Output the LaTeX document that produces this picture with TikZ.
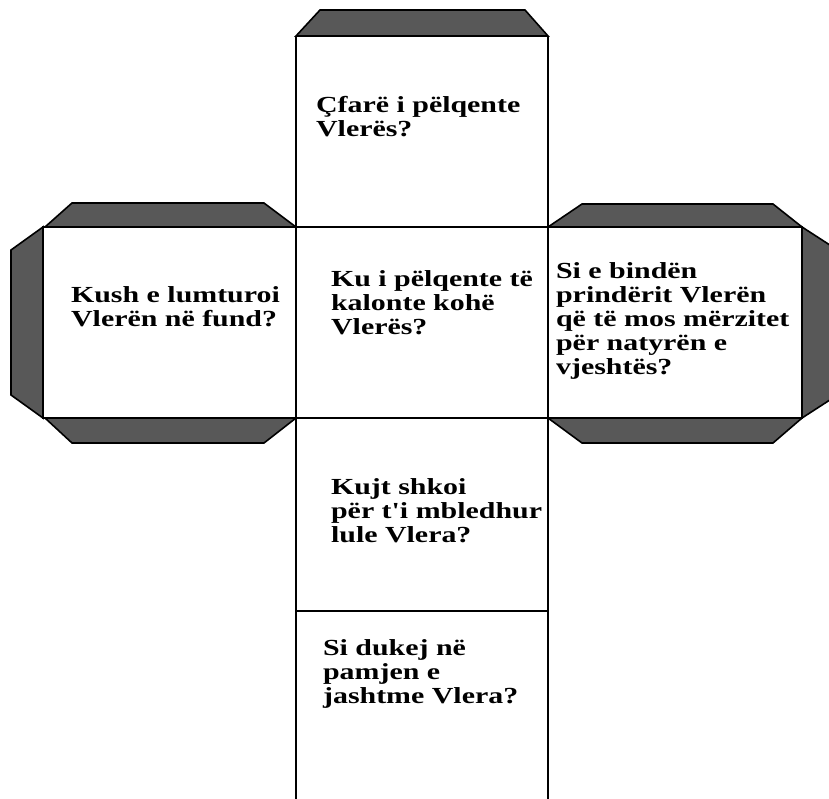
\documentclass[tikz,border=0pt]{standalone}
\usepackage{fontspec}
\newfontfamily\askfont{Liberation Serif}[FakeStretch=1.3]
\definecolor{flapGray}{RGB}{88, 88, 88}

\begin{document}
\begin{tikzpicture}[x=1pt, y=-1pt, line width=2.2pt,
    question/.style={anchor=west, align=left, inner sep=0pt,
      font=\askfont\bfseries\fontsize{23}{24}\selectfont},
    flap/.style={fill=flapGray, draw=black, line width=1.6pt}]
  \clip (0,0) rectangle (829,798);

  % Flaps of the top face
  \filldraw[flap] (296,36) -- (320,10) -- (525,10) -- (548,36) -- cycle;

  % Flaps of the left face
  \filldraw[flap] (45,227) -- (72,203) -- (264,203) -- (296,227) -- cycle;
  \filldraw[flap] (45,418) -- (72,443) -- (264,443) -- (296,418) -- cycle;
  \filldraw[flap] (43,227) -- (11,250) -- (11,395) -- (43,418) -- cycle;

  % Flaps of the right face
  \filldraw[flap] (548,227) -- (582,204) -- (773,204) -- (802,227) -- cycle;
  \filldraw[flap] (548,418) -- (582,443) -- (773,443) -- (802,418) -- cycle;
  \filldraw[flap] (802,227) -- (836,249) -- (836,396) -- (802,418) -- cycle;

  % Faces
  \draw (296,36) -- (548,36);
  \draw (296,36) -- (296,800);
  \draw (548,36) -- (548,800);
  \draw (43,227) rectangle (802,418);
  \draw (296,611) -- (548,611);

  % Questions
  \node[question] (qTop) at (315,117) {Çfarë i pëlqente\\Vlerës?};
  \node[question] (qMid) at (330,303) {Ku i pëlqente të\\kalonte kohë\\Vlerës?};
  \node[question] (qLeft) at (70,307) {Kush e lumturoi\\Vlerën në fund?};
  \node[question] (qRight) at (555,321) {Si e bindën\\prindërit Vlerën\\që të mos mërzitet\\për natyrën e\\vjeshtës?};
  \node[question] (qLow) at (330,511) {Kujt shkoi\\për t'i mbledhur\\lule Vlera?};
  \node[question] (qBot) at (322,674) {Si dukej në\\pamjen e\\jashtme Vlera?};
\end{tikzpicture}
\end{document}
